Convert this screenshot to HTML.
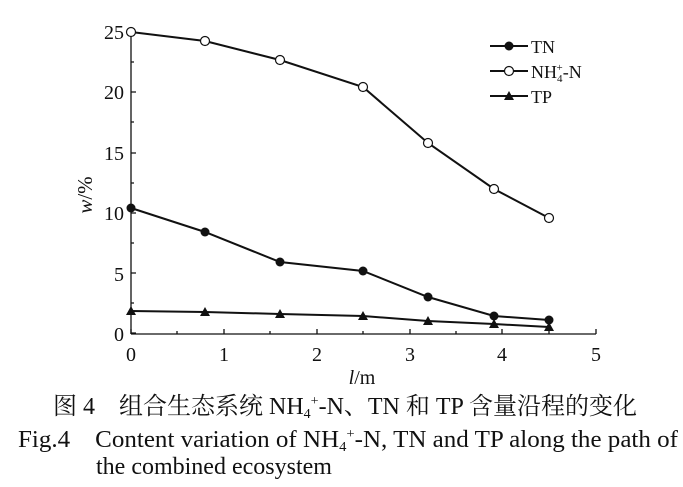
<!DOCTYPE html>
<html><head><meta charset="utf-8"><style>
body{margin:0;background:#fff;width:683px;height:482px;overflow:hidden}
svg text{font-family:"Liberation Serif","Noto Serif CJK SC",serif;fill:#111}
</style></head><body>
<svg width="683" height="482" viewBox="0 0 683 482" xmlns="http://www.w3.org/2000/svg">
<g stroke="#111" stroke-width="1.3" fill="none">
<line x1="131" y1="30" x2="131" y2="334"/>
<line x1="131" y1="334" x2="596" y2="334"/>
<path d="M131 333h5M131 303h3M131 273h5M131 243h3M131 213h5M131 183h3M131 153h5M131 122h3M131 92h5M131 62h3M131 32h5"/>
<path d="M131 334v-5M177 334v-3M224 334v-5M270 334v-3M317 334v-5M363 334v-3M410 334v-5M456 334v-3M502 334v-5M549 334v-3M596 334v-5"/>
</g>
<g font-size="20" text-anchor="end">
<text x="124" y="341">0</text><text x="124" y="281">5</text><text x="124" y="220">10</text>
<text x="124" y="160">15</text><text x="124" y="99">20</text><text x="124" y="39">25</text>
</g>
<g font-size="20" text-anchor="middle">
<text x="131" y="361">0</text><text x="224" y="361">1</text><text x="317" y="361">2</text>
<text x="410" y="361">3</text><text x="502" y="361">4</text><text x="596" y="361">5</text>
<text x="362" y="384" font-size="20"><tspan font-style="italic">l</tspan>/m</text>
</g>
<text transform="translate(92,195) rotate(-90)" font-size="21" text-anchor="middle"><tspan font-style="italic">w</tspan>/%</text>
<g stroke="#111" stroke-width="2" fill="none">
<polyline points="131,32 205,41 280,60 363,87 428,143 494,189 549,218"/>
<polyline points="131,208 205,232 280,262 363,271 428,297 494,316 549,320"/>
<polyline points="131,311 205,312 280,314 363,316 428,321 494,324 549,327"/>
<line x1="490" y1="46" x2="528" y2="46"/><line x1="490" y1="71" x2="528" y2="71"/><line x1="490" y1="96" x2="528" y2="96"/>
</g>
<g fill="#fff" stroke="#111" stroke-width="1.2">
<circle cx="131" cy="32" r="4.5"/><circle cx="205" cy="41" r="4.5"/><circle cx="280" cy="60" r="4.5"/><circle cx="363" cy="87" r="4.5"/><circle cx="428" cy="143" r="4.5"/><circle cx="494" cy="189" r="4.5"/><circle cx="549" cy="218" r="4.5"/><circle cx="509" cy="71" r="4.5"/>
</g>
<g fill="#111">
<circle cx="131" cy="208" r="4.5"/><circle cx="205" cy="232" r="4.5"/><circle cx="280" cy="262" r="4.5"/><circle cx="363" cy="271" r="4.5"/><circle cx="428" cy="297" r="4.5"/><circle cx="494" cy="316" r="4.5"/><circle cx="549" cy="320" r="4.5"/><circle cx="509" cy="46" r="4.5"/>
<path d="M131 306l5 9h-10zM205 307l5 9h-10zM280 309l5 9h-10zM363 311l5 9h-10zM428 316l5 9h-10zM494 319l5 9h-10zM549 322l5 9h-10zM509 91l5 9h-10z"/>
</g>
<g font-size="18">
<text x="531" y="53">TN</text>
<text x="531" y="78">NH<tspan font-size="11" dy="4">4</tspan><tspan font-size="11" dx="-6" dy="-11">+</tspan><tspan dy="7">-N</tspan></text>
<text x="531" y="103">TP</text>
</g>
<text x="53" y="414" font-size="24">图 4　组合生态系统 NH<tspan font-size="14" dy="4">4</tspan><tspan font-size="14" dy="-13">+</tspan><tspan dy="9">-N、TN 和 TP 含量沿程的变化</tspan></text>
<text x="18" y="447" font-size="24" textLength="660" lengthAdjust="spacingAndGlyphs">Fig.4　Content variation of NH<tspan font-size="14" dy="4">4</tspan><tspan font-size="14" dy="-13">+</tspan><tspan dy="9">-N, TN and TP along the path of</tspan></text>
<text x="96" y="474" font-size="24">the combined ecosystem</text>
</svg>
</body></html>
